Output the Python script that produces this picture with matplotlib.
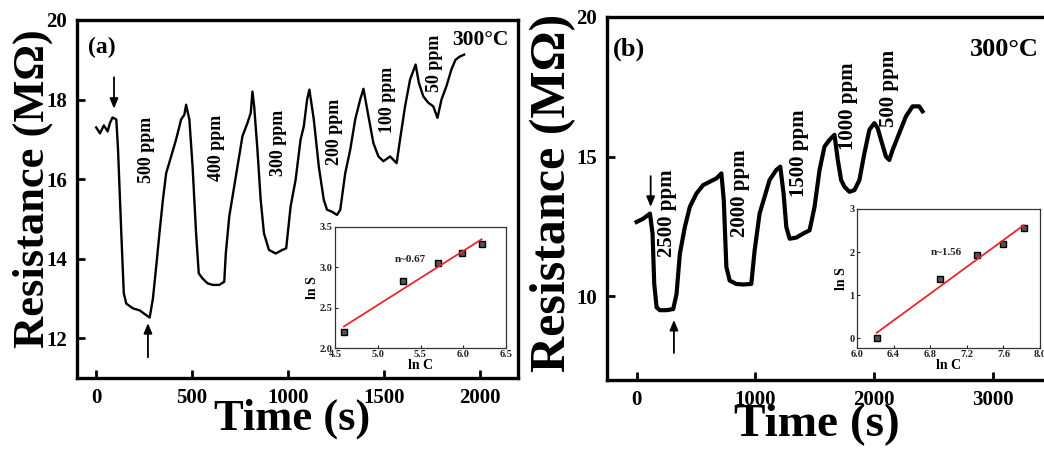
import numpy as np
import matplotlib
matplotlib.use("Agg")
import matplotlib.pyplot as plt

plt.rcParams['font.family'] = ['Liberation Serif', 'DejaVu Serif']
plt.rcParams['font.weight'] = 'bold'

# ---------------- data: panel (a) ----------------
time_a = [0, 20, 40, 60, 71, 85, 105, 114, 131, 144,
          157, 192, 227, 261, 279, 296, 313, 330, 348, 365,
          391, 417, 443, 460, 469, 486, 503, 521, 535, 555,
          581, 607, 642, 668, 676, 694, 720, 737, 763, 789,
          806, 815, 824, 841, 858, 875, 901, 936, 971, 991,
          1014, 1040, 1066, 1083, 1100, 1112, 1135, 1161, 1187, 1204,
          1230, 1256, 1273, 1299, 1325, 1351, 1377, 1394, 1420, 1446,
          1472, 1498, 1533, 1567, 1585, 1611, 1637, 1666, 1683, 1706,
          1732, 1758, 1780, 1801, 1827, 1853, 1874, 1896, 1919]
res_a = [17.3, 17.15, 17.35, 17.2, 17.4, 17.55, 17.5, 16.74, 14.64, 13.13,
         12.87, 12.75, 12.7, 12.58, 12.52, 13.0, 13.8, 14.64, 15.48, 16.15,
         16.57, 17.0, 17.5, 17.62, 17.87, 17.5, 16.3, 14.64, 13.63, 13.5,
         13.38, 13.34, 13.34, 13.42, 14.13, 15.06, 15.82, 16.32, 17.08, 17.41,
         17.66, 18.2, 17.83, 16.74, 15.48, 14.64, 14.22, 14.13, 14.22, 14.26,
         15.31, 15.98, 16.99, 17.33, 18.0, 18.25, 17.5, 16.32, 15.48, 15.23,
         15.18, 15.1, 15.23, 16.15, 16.74, 17.5, 18.0, 18.27, 17.58, 16.9,
         16.57, 16.45, 16.57, 16.4, 17.0, 17.83, 18.5, 18.88, 18.42, 18.08,
         17.92, 17.83, 17.54, 18.0, 18.34, 18.76, 19.0, 19.08, 19.13]
labels_a = ["500 ppm", "400 ppm", "300 ppm", "200 ppm", "100 ppm", "50 ppm"]
label_t_a = [261, 625, 953, 1244, 1521, 1766]
label_r_a = [16.74, 16.78, 16.9, 17.2, 18.0, 18.9]

# inset (a)
lnC_a = [4.605, 5.298, 5.704, 5.991, 6.215]
lnS_a = [2.20, 2.83, 3.05, 3.18, 3.29]

# ---------------- data: panel (b) ----------------
time_b = [0, 56, 112, 134, 148, 168, 196, 252, 308, 336, 364, 406, 448, 504, 560, 616, 672, 714,
          734, 756, 784, 840, 896, 966, 994, 1036, 1078, 1120, 1176, 1210,
          1238, 1261, 1289, 1345, 1401, 1457, 1499, 1541, 1583, 1625, 1667,
          1695, 1723, 1751, 1793, 1835, 1877, 1919, 1961, 2003, 2031,
          2059, 2101, 2129, 2157, 2213, 2269, 2325, 2381, 2409]
res_b = [12.66, 12.78, 12.96, 12.24, 10.44, 9.6, 9.5, 9.5, 9.54, 10.08, 11.52, 12.48, 13.2, 13.68, 13.98, 14.1, 14.22, 14.4,
         13.44, 11.04, 10.56, 10.44, 10.42, 10.44, 11.64, 12.96, 13.56, 14.16, 14.52, 14.64,
         13.68, 12.48, 12.06, 12.1, 12.24, 12.36, 13.2, 14.52, 15.36, 15.6, 15.78,
         14.88, 14.16, 13.92, 13.74, 13.8, 14.16, 15.12, 15.96, 16.2, 16.02,
         15.6, 15.0, 14.88, 15.24, 15.84, 16.44, 16.8, 16.8, 16.62]
labels_b = ["2500 ppm", "2000 ppm", "1500 ppm", "1000 ppm", "500 ppm"]
label_t_b = [252, 868, 1367, 1779, 2129]
label_r_b = [12.96, 13.68, 15.12, 16.8, 17.46]

# inset (b)
lnC_b = [6.215, 6.908, 7.313, 7.601, 7.824]
lnS_b = [0.0, 1.38, 1.94, 2.18, 2.56]

W, H = 1044, 453
fig = plt.figure(figsize=(W / 100, H / 100), dpi=100)


def px_axes(l, t, r, b):
    return fig.add_axes([l / W, 1 - b / H, (r - l) / W, (b - t) / H])


def style_main(ax):
    for s in ax.spines.values():
        s.set_linewidth(2.4)
    ax.tick_params(direction='in', length=6, width=2, labelsize=15, pad=7)
    for lab in ax.get_xticklabels() + ax.get_yticklabels():
        lab.set_fontweight('bold')


def style_inset(ax):
    for s in ax.spines.values():
        s.set_linewidth(0.9)
        s.set_color('#333333')
    ax.tick_params(direction='in', length=2.5, width=0.8, labelsize=7.5, pad=1.5, colors='#222222')
    for lab in ax.get_xticklabels() + ax.get_yticklabels():
        lab.set_fontweight('bold')


arrow_kw = dict(arrowstyle='-|>,head_length=0.6,head_width=0.25', color='black', lw=1.3)

# ---------------- panel (a) ----------------
axa = px_axes(77, 20, 518, 378)
axa.plot(time_a, res_a, color='black', lw=1.7)
axa.set_xlim(-100, 2200)
axa.set_ylim(11, 20)
axa.set_xticks([0, 500, 1000, 1500, 2000])
axa.set_yticks([12, 14, 16, 18, 20])
style_main(axa)
axa.set_xlabel('Time (s)', fontsize=32, fontweight='bold')
axa.xaxis.set_label_coords(0.4875, -0.058)
axa.set_ylabel('Resistance (M\u03a9)', fontsize=32, fontweight='bold')
axa.yaxis.set_label_coords(-0.054, 0.528)
for lab, t, r in zip(labels_a, label_t_a, label_r_a):
    axa.text(t, r, lab, rotation=90, ha='center', va='center', fontsize=13, fontweight='bold')
axa.text(30, 19.3, '(a)', fontsize=17, fontweight='bold', ha='center', va='center')
axa.text(2150, 19.5, '300°C', fontsize=15.5, fontweight='bold', ha='right', va='center')
axa.annotate('', xy=(93, 17.7), xytext=(93, 18.63), arrowprops=arrow_kw)
axa.annotate('', xy=(270, 12.45), xytext=(270, 11.45), arrowprops=arrow_kw)

ia = px_axes(335, 227, 506, 348)
ia.plot(lnC_a, lnS_a, 's', ms=4.5, mfc='#555555', mec='black', mew=1.0)
pa = np.polyfit(lnC_a, lnS_a, 1)
xa = np.array([lnC_a[0], lnC_a[-1]])
ia.plot(xa, np.polyval(pa, xa), color='#e8262b', lw=1.3)
ia.set_xlim(4.5, 6.5)
ia.set_ylim(2.0, 3.5)
ia.set_xticks([4.5, 5.0, 5.5, 6.0, 6.5])
ia.set_yticks([2.0, 2.5, 3.0, 3.5])
style_inset(ia)
ia.set_xlabel('ln C', fontsize=10, fontweight='bold', labelpad=0)
ia.set_ylabel('ln S', fontsize=10, fontweight='bold', labelpad=1)
ia.text(5.2, 3.1, 'n~0.67', fontsize=8, fontweight='bold', ha='left', va='center', color='#222222')

# ---------------- panel (b) ----------------
axb = px_axes(607, 17, 1052, 380)
axb.plot(time_b, res_b, color='black', lw=3.0)
axb.set_xlim(-250, 3500)
axb.set_ylim(7, 20)
axb.set_xticks([0, 1000, 2000, 3000])
axb.set_yticks([10, 15, 20])
style_main(axb)
axb.set_xlabel('Time (s)', fontsize=34, fontweight='bold')
axb.xaxis.set_label_coords(0.472, -0.064)
axb.set_ylabel('Resistance (M\u03a9)', fontsize=36, fontweight='bold')
axb.yaxis.set_label_coords(-0.070, 0.515)
for lab, t, r in zip(labels_b, label_t_b, label_r_b):
    axb.text(t, r, lab, rotation=90, ha='center', va='center', fontsize=15, fontweight='bold')
axb.text(-200, 18.84, '(b)', fontsize=19, fontweight='bold', ha='left', va='center')
axb.text(3390, 18.84, '300°C', fontsize=19, fontweight='bold', ha='right', va='center')
axb.annotate('', xy=(118, 13.1), xytext=(118, 14.4), arrowprops=arrow_kw)
axb.annotate('', xy=(314, 9.25), xytext=(314, 7.87), arrowprops=arrow_kw)

ib = px_axes(857, 209, 1040, 348)
ib.plot(lnC_b, lnS_b, 's', ms=4.5, mfc='#555555', mec='black', mew=1.0)
pb = np.polyfit(lnC_b, lnS_b, 1)
xb = np.array([lnC_b[0], lnC_b[-1]])
ib.plot(xb, np.polyval(pb, xb), color='#e8262b', lw=1.3)
ib.set_xlim(6.0, 8.0)
ib.set_ylim(-0.23, 3.0)
ib.set_xticks([6.0, 6.4, 6.8, 7.2, 7.6, 8.0])
ib.set_yticks([0, 1, 2, 3])
style_inset(ib)
ib.set_xlabel('ln C', fontsize=10, fontweight='bold', labelpad=0)
ib.set_ylabel('ln S', fontsize=10, fontweight='bold', labelpad=1)
ib.text(6.81, 2.0, 'n~1.56', fontsize=8, fontweight='bold', ha='left', va='center', color='#222222')

fig.savefig('out.png', dpi=100)
